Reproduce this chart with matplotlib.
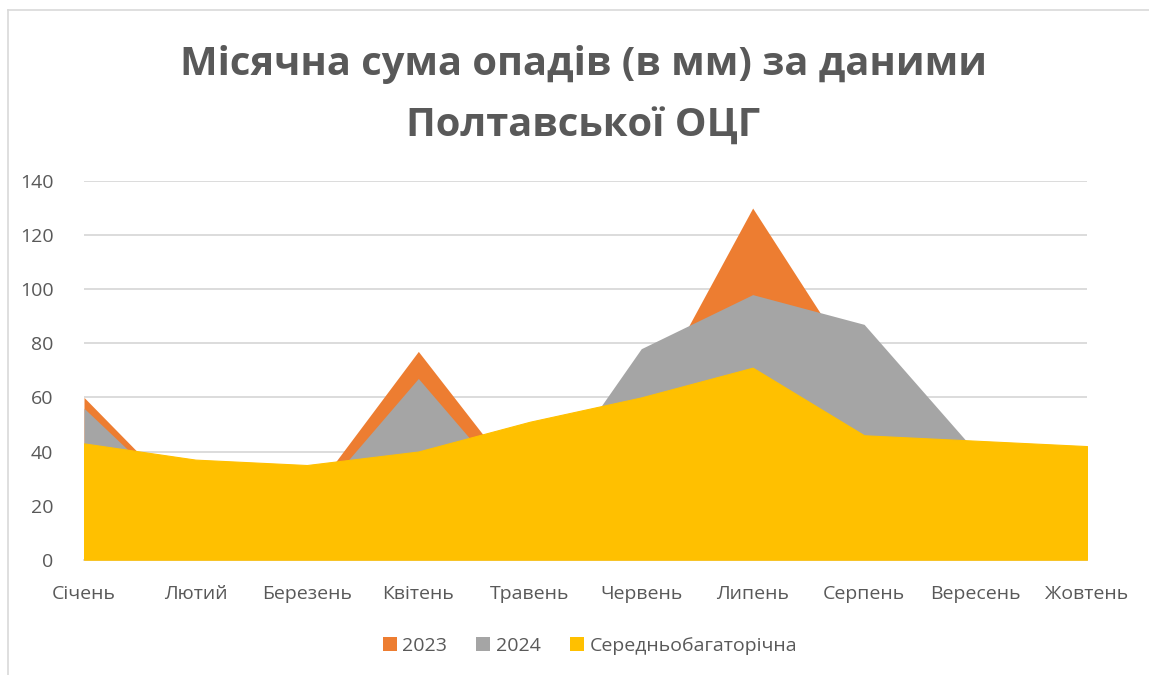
import numpy as np
import matplotlib
matplotlib.use("Agg")
import matplotlib.pyplot as plt
from matplotlib.patches import Patch
from matplotlib.lines import Line2D

months = ["Січень", "Лютий", "Березень", "Квітень", "Травень",
          "Червень", "Липень", "Серпень", "Вересень", "Жовтень"]
rain_2023 = [60, 18, 22, 77, 24, 54, 130, 66, 30, 25]
rain_2024 = [56, 17, 19, 67, 19, 78, 98, 87, 40, 20]
rain_avg = [43, 37, 35, 40, 51, 60, 71, 46, 44, 42]
series_names = ["2023", "2024", "Середньобагаторічна"]
colors = ["#ED7D31", "#A5A5A5", "#FFC000"]
yticks = [0, 20, 40, 60, 80, 100, 120, 140]

txt = "#595959"
plt.rcParams["font.family"] = ["Open Sans", "DejaVu Sans"]

W, H = 1149, 675
fig = plt.figure(figsize=(W / 100, H / 100), dpi=100)
ax = fig.add_axes([84 / W, 1 - 559.7 / H, (1087 - 84) / W, (559.7 - 181) / H])

x = np.arange(len(months))
for vals, c in zip([rain_2023, rain_2024], colors[:2]):
    ax.fill_between(x, 0, vals, color=c, linewidth=0, zorder=2)
# average on top; a thin edge of the same colour hides the antialiased slivers below
ax.fill_between(x, 0, rain_avg, facecolor=colors[2], edgecolor=colors[2],
                linewidth=0.8, zorder=3)

ax.set_xlim(0, len(months) - 1)
ax.set_ylim(0, 140)
ax.set_yticks(yticks)
ax.grid(axis="y", color="#d9d9d9", linewidth=1.3, zorder=0)
ax.set_axisbelow(True)
for s in ["top", "right", "left"]:
    ax.spines[s].set_visible(False)
ax.spines["bottom"].set_color("#d9d9d9")
ax.spines["bottom"].set_linewidth(1.3)
ax.set_xticks(x)
ax.set_xticklabels(months)
ax.tick_params(axis="both", length=0, labelsize=14, labelcolor=txt)
ax.tick_params(axis="x", pad=18)
ax.tick_params(axis="y", pad=22)

fig.text(583 / W, 1 - 64 / H, "Місячна сума опадів (в мм) за даними",
         ha="center", va="center", fontsize=28.7, fontweight="bold", color=txt)
fig.text(583 / W, 1 - 126 / H, "Полтавської ОЦГ",
         ha="center", va="center", fontsize=28.7, fontweight="bold", color=txt)

handles = [Patch(facecolor=c, edgecolor="none") for c in colors]
fig.legend(handles, series_names, loc="center", bbox_to_anchor=(590 / W, 1 - 646 / H),
           ncol=3, frameon=False, fontsize=14, labelcolor=txt,
           handlelength=0.7, handleheight=0.7, handletextpad=0.3, columnspacing=1.5)

# chart area border (left and top edges visible)
fig.add_artist(Line2D([8 / W, 8 / W], [0, 1 - 10 / H], transform=fig.transFigure,
                      color="#d9d9d9", linewidth=1.2))
fig.add_artist(Line2D([8 / W, 1], [1 - 10 / H, 1 - 10 / H], transform=fig.transFigure,
                      color="#d9d9d9", linewidth=1.2))

fig.savefig("out.png", dpi=100)
